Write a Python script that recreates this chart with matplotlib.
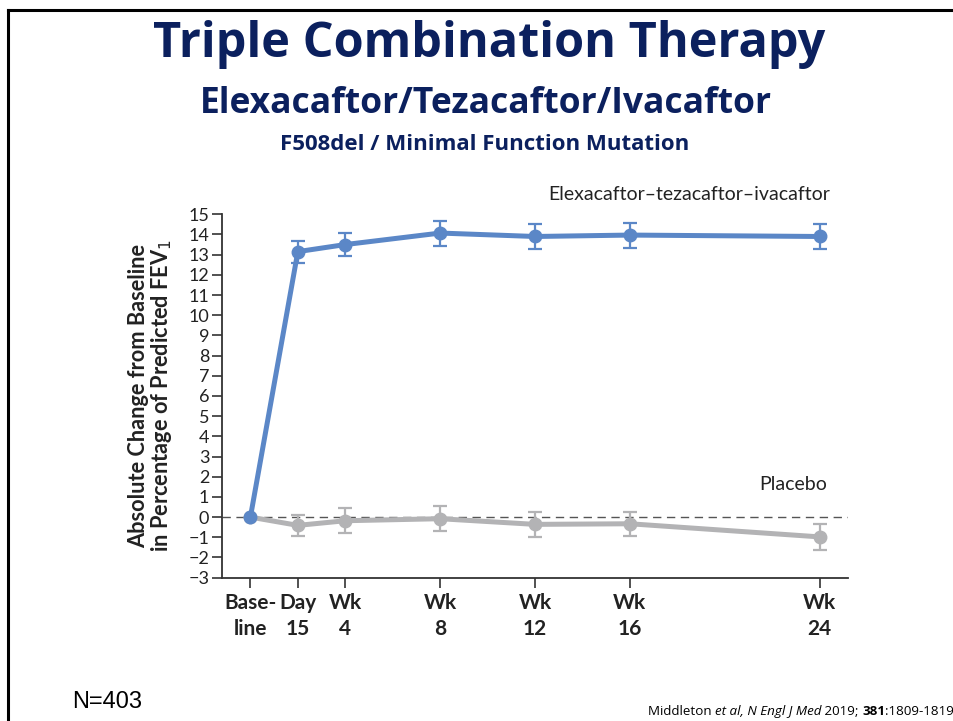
import matplotlib
matplotlib.use("Agg")
import matplotlib.pyplot as plt
from matplotlib.lines import Line2D

# Study visits (weeks after baseline) and their axis labels
weeks = [0, 2, 4, 8, 12, 16, 24]
visit_labels = ["Base-\nline", "Day\n15", "Wk\n4", "Wk\n8", "Wk\n12", "Wk\n16", "Wk\n24"]

# Absolute change from baseline in ppFEV1 (mean and error half-width)
eti_mean = [0.0, 13.15, 13.5, 14.07, 13.9, 13.97, 13.9]
eti_err = [0.0, 0.55, 0.57, 0.62, 0.63, 0.62, 0.64]
pbo_mean = [0.0, -0.41, -0.18, -0.08, -0.36, -0.33, -0.98]
pbo_err = [0.0, 0.53, 0.62, 0.63, 0.61, 0.6, 0.64]

y_ticks = list(range(-3, 16))

BLUE = "#5b87c7"
GRAY = "#b3b3b5"
NAVY = "#0b205e"
FONT = "Lato"

fig = plt.figure(figsize=(9.54, 7.21), dpi=100)
fig.patch.set_facecolor("white")

# slide frame (left and top edges)
fig.add_artist(Line2D([0.0089, 0.0089], [0.0, 0.9857], transform=fig.transFigure,
                      color="black", lw=2.2, solid_capstyle="projecting"))
fig.add_artist(Line2D([0.0089, 1.0], [0.9857, 0.9857], transform=fig.transFigure,
                      color="black", lw=2.2, solid_capstyle="projecting"))

# slide headings
fig.text(0.5126, 0.921, "Triple Combination Therapy", ha="center", va="baseline",
         fontsize=35, fontweight="bold", color=NAVY, family="Open Sans")
fig.text(0.5094, 0.843, "Elexacaftor/Tezacaftor/Ivacaftor", ha="center", va="baseline",
         fontsize=25.5, fontweight="bold", color=NAVY, family="Open Sans")
fig.text(0.5078, 0.792, "F508del / Minimal Function Mutation", ha="center", va="baseline",
         fontsize=16, fontweight="bold", color=NAVY, family="Open Sans")

ax = fig.add_axes([0.2324, 0.1988, 0.6565, 0.504])

ax.axhline(0, color="#555555", lw=1.0, ls=(0, (6, 4)), zorder=1)

ax.errorbar(weeks[1:], pbo_mean[1:], yerr=pbo_err[1:], fmt="none", ecolor=GRAY,
            elinewidth=1.6, capsize=5, capthick=1.6, zorder=2)
ax.plot(weeks, pbo_mean, color=GRAY, lw=3.6, marker="o", ms=9,
        solid_capstyle="round", zorder=3)

ax.errorbar(weeks[1:], eti_mean[1:], yerr=eti_err[1:], fmt="none", ecolor=BLUE,
            elinewidth=1.6, capsize=5, capthick=1.6, zorder=4)
ax.plot(weeks, eti_mean, color=BLUE, lw=3.6, marker="o", ms=9,
        solid_capstyle="round", zorder=5)

ax.text(24.45, 15.7, "Elexacaftor\u2013tezacaftor\u2013ivacaftor", ha="right", va="baseline",
        fontsize=14, family=FONT, color="#222222")
ax.text(24.3, 1.32, "Placebo", ha="right", va="baseline",
        fontsize=14, family=FONT, color="#222222")

ax.set_xlim(-1.21, 25.2)
ax.set_ylim(-3, 15)
ax.set_yticks(y_ticks)
ax.set_yticklabels(["\u2212" + str(-t) if t < 0 else str(t) for t in y_ticks],
                   family=FONT, fontsize=13, color="#222222")
ax.set_xticks(weeks)
ax.set_xticklabels(visit_labels, family=FONT, fontsize=15, fontweight="bold",
                   color="#222222", linespacing=1.35)

for side in ("top", "right"):
    ax.spines[side].set_visible(False)
for side in ("left", "bottom"):
    ax.spines[side].set_linewidth(1.3)
    ax.spines[side].set_color("#333333")
ax.tick_params(axis="y", length=7, width=1.2, color="#333333", pad=2)
ax.tick_params(axis="x", length=7, width=1.2, color="#333333", pad=4)

ax.set_ylabel("Absolute Change from Baseline\nin Percentage of Predicted FEV$_1$",
              family=FONT, fontsize=15.7, fontweight="bold", color="#222222",
              linespacing=1.0, labelpad=10)

# footer
fig.text(0.0755, 0.018, "N=403", ha="left", va="baseline", fontsize=17,
         family="Liberation Sans", color="black")

pieces = [("Middleton ", "normal", "normal"), ("et al, N Engl J Med", "italic", "normal"),
          (" 2019; ", "normal", "normal"), ("381", "normal", "bold"),
          (":1809-1819", "normal", "normal")]
prev = fig.text(0.679, 0.004, pieces[0][0], ha="left", va="bottom", fontsize=9.6,
                family="Open Sans", style=pieces[0][1], fontweight=pieces[0][2])
for txt, sty, wt in pieces[1:]:
    prev = ax.annotate(txt, xy=(1.0, 0.0), xycoords=prev, ha="left", va="bottom",
                       fontsize=9.6, family="Open Sans", style=sty, fontweight=wt,
                       annotation_clip=False)

fig.savefig("out.png", dpi=100, facecolor="white")
